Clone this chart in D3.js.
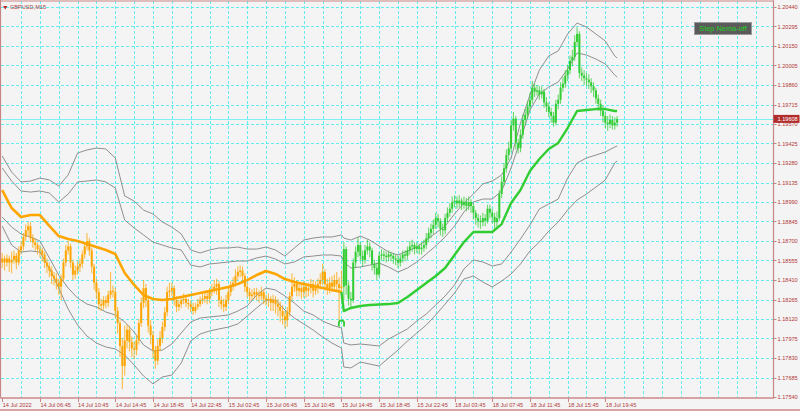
<!DOCTYPE html>
<html><head><meta charset="utf-8">
<script src="https://cdn.jsdelivr.net/npm/d3@7"></script>
<style>html,body{margin:0;padding:0;background:#f4f4f4;overflow:hidden}svg{display:block}</style>
</head><body>
<svg id="c" width="800" height="411"></svg>
<script>
const symbolTitle = "GBPUSD,M15";
const buttonText = "Step Nema-off";
const priceTicks = [1.17540,1.17685,1.17830,1.17975,1.18120,1.18265,1.18410,1.18555,1.18700,1.18845,1.18990,1.19135,1.19280,1.19425,1.19570,1.19715,1.19860,1.20005,1.20150,1.20295,1.20440];
const timeLabels = ["14 Jul 2022","14 Jul 06:45","14 Jul 10:45","14 Jul 14:45","14 Jul 18:45","14 Jul 22:45","15 Jul 02:45","15 Jul 06:45","15 Jul 10:45","15 Jul 14:45","15 Jul 18:45","15 Jul 22:45","18 Jul 03:45","18 Jul 07:45","18 Jul 11:45","18 Jul 15:45","18 Jul 19:45"];
const timeLabelBars = [0,16,32,48,64,80,96,112,128,144,160,176,192,208,224,240,256];

const opens = [1.1854,1.1857,1.1854,1.1857,1.1854,1.1856,1.1859,1.1854,1.1863,1.1866,
1.1873,1.1878,1.1881,1.1872,1.1869,1.1867,1.1864,1.1863,1.1860,1.1854,
1.1851,1.1848,1.1844,1.1842,1.1839,1.1836,1.1842,1.1854,1.1863,1.1866,
1.1854,1.1845,1.1848,1.1851,1.1853,1.1860,1.1866,1.1870,1.1863,1.1851,
1.1839,1.1832,1.1823,1.1822,1.1826,1.1824,1.1830,1.1833,1.1832,1.1818,
1.1809,1.1792,1.1777,1.1796,1.1804,1.1795,1.1790,1.1789,1.1796,1.1809,
1.1824,1.1835,1.1826,1.1807,1.1800,1.1789,1.1781,1.1792,1.1798,1.1806,
1.1817,1.1832,1.1833,1.1835,1.1826,1.1821,1.1823,1.1826,1.1827,1.1824,
1.1823,1.1821,1.1818,1.1821,1.1823,1.1826,1.1827,1.1829,1.1827,1.1832,
1.1833,1.1836,1.1838,1.1826,1.1823,1.1821,1.1826,1.1832,1.1836,1.1839,
1.1844,1.1847,1.1848,1.1844,1.1836,1.1832,1.1829,1.1830,1.1832,1.1830,
1.1829,1.1832,1.1827,1.1826,1.1827,1.1824,1.1826,1.1823,1.1821,1.1818,
1.1814,1.1811,1.1817,1.1829,1.1836,1.1838,1.1833,1.1835,1.1832,1.1836,
1.1833,1.1835,1.1838,1.1833,1.1836,1.1838,1.1841,1.1847,1.1838,1.1835,
1.1839,1.1836,1.1841,1.1838,1.1835,1.1836,1.1864,1.1837,1.1827,1.1826,
1.1854,1.1862,1.1867,1.1859,1.1856,1.1863,1.1866,1.1863,1.1853,1.1850,
1.1845,1.1859,1.1860,1.1859,1.1858,1.1860,1.1859,1.1857,1.1856,1.1854,
1.1857,1.1860,1.1859,1.1863,1.1866,1.1867,1.1864,1.1866,1.1864,1.1865,
1.1867,1.1872,1.1876,1.1879,1.1882,1.1887,1.1885,1.1879,1.1878,1.1887,
1.1891,1.1894,1.1899,1.1900,1.1898,1.1900,1.1897,1.1899,1.1896,1.1899,
1.1896,1.1891,1.1887,1.1885,1.1884,1.1887,1.1885,1.1894,1.1891,1.1888,
1.1884,1.1887,1.1905,1.1914,1.1924,1.1934,1.1939,1.1956,1.1961,1.1943,
1.1939,1.1949,1.1960,1.1964,1.1970,1.1975,1.1984,1.1981,1.1982,1.1979,
1.1981,1.1973,1.1970,1.1966,1.1963,1.1958,1.1972,1.1975,1.1984,1.1987,
1.1993,1.1997,1.2004,1.2007,1.2018,1.2024,1.1995,1.1993,1.1991,1.1990,
1.1988,1.1985,1.1982,1.1976,1.1972,1.1967,1.1963,1.1958,1.1957,1.1960,
1.1956,1.1958];

const highs = [1.1861,1.1859,1.1860,1.1859,1.1862,1.1863,1.1861,1.1866,1.1870,1.1876,
1.1882,1.1884,1.1884,1.1875,1.1872,1.1869,1.1867,1.1865,1.1862,1.1857,
1.1854,1.1851,1.1847,1.1846,1.1842,1.1845,1.1857,1.1867,1.1870,1.1868,
1.1856,1.1852,1.1855,1.1857,1.1863,1.1869,1.1876,1.1872,1.1865,1.1853,
1.1842,1.1835,1.1827,1.1829,1.1829,1.1833,1.1847,1.1837,1.1835,1.1821,
1.1811,1.1798,1.1807,1.1808,1.1807,1.1799,1.1795,1.1800,1.1812,1.1828,
1.1841,1.1838,1.1829,1.1811,1.1803,1.1792,1.1797,1.1803,1.1810,1.1821,
1.1836,1.1839,1.1839,1.1837,1.1829,1.1826,1.1829,1.1831,1.1829,1.1827,
1.1826,1.1824,1.1824,1.1827,1.1829,1.1831,1.1833,1.1832,1.1835,1.1838,
1.1841,1.1842,1.1840,1.1829,1.1827,1.1830,1.1835,1.1840,1.1843,1.1849,
1.1851,1.1852,1.1851,1.1846,1.1839,1.1835,1.1834,1.1835,1.1835,1.1833,
1.1836,1.1834,1.1830,1.1831,1.1829,1.1830,1.1829,1.1827,1.1825,1.1822,
1.1818,1.1821,1.1832,1.1846,1.1843,1.1841,1.1839,1.1838,1.1840,1.1839,
1.1839,1.1842,1.1841,1.1840,1.1842,1.1846,1.1853,1.1849,1.1842,1.1843,
1.1844,1.1845,1.1847,1.1843,1.1848,1.1869,1.1866,1.1840,1.1832,1.1857,
1.1866,1.1873,1.1869,1.1863,1.1867,1.1871,1.1869,1.1865,1.1856,1.1854,
1.1862,1.1864,1.1863,1.1862,1.1863,1.1862,1.1861,1.1860,1.1859,1.1860,
1.1863,1.1863,1.1866,1.1870,1.1871,1.1869,1.1869,1.1868,1.1869,1.1871,
1.1876,1.1880,1.1883,1.1886,1.1891,1.1890,1.1887,1.1883,1.1890,1.1895,
1.1898,1.1903,1.1904,1.1903,1.1904,1.1902,1.1903,1.1902,1.1903,1.1901,
1.1898,1.1893,1.1890,1.1889,1.1891,1.1890,1.1897,1.1897,1.1894,1.1891,
1.1892,1.1908,1.1918,1.1928,1.1938,1.1944,1.1960,1.1966,1.1963,1.1946,
1.1953,1.1964,1.1968,1.1974,1.1980,1.1989,1.1987,1.1986,1.1985,1.1985,
1.1983,1.1977,1.1973,1.1969,1.1966,1.1975,1.1979,1.1988,1.1992,1.1997,
1.2001,1.2008,1.2012,1.2023,1.2029,1.2026,1.1999,1.1997,1.1995,1.1994,
1.1991,1.1988,1.1984,1.1979,1.1975,1.1971,1.1966,1.1963,1.1964,1.1963,
1.1962,1.1963];

const lows = [1.1850,1.1848,1.1851,1.1847,1.1846,1.1853,1.1849,1.1852,1.1860,1.1863,
1.1870,1.1874,1.1869,1.1865,1.1863,1.1860,1.1858,1.1855,1.1850,1.1846,
1.1843,1.1838,1.1837,1.1834,1.1830,1.1826,1.1840,1.1851,1.1860,1.1850,
1.1841,1.1842,1.1845,1.1847,1.1850,1.1857,1.1863,1.1859,1.1846,1.1834,
1.1827,1.1819,1.1818,1.1819,1.1820,1.1821,1.1827,1.1828,1.1813,1.1801,
1.1784,1.1760,1.1770,1.1790,1.1788,1.1784,1.1782,1.1785,1.1793,1.1806,
1.1820,1.1821,1.1802,1.1793,1.1783,1.1775,1.1778,1.1788,1.1794,1.1803,
1.1814,1.1828,1.1829,1.1822,1.1817,1.1818,1.1820,1.1823,1.1821,1.1819,
1.1817,1.1815,1.1816,1.1819,1.1821,1.1823,1.1824,1.1823,1.1824,1.1829,
1.1831,1.1830,1.1821,1.1819,1.1817,1.1818,1.1823,1.1829,1.1833,1.1836,
1.1841,1.1843,1.1840,1.1832,1.1828,1.1825,1.1826,1.1827,1.1826,1.1824,
1.1826,1.1823,1.1822,1.1821,1.1818,1.1818,1.1816,1.1814,1.1810,1.1808,
1.1805,1.1806,1.1814,1.1826,1.1832,1.1829,1.1829,1.1827,1.1828,1.1828,
1.1829,1.1831,1.1828,1.1830,1.1831,1.1834,1.1837,1.1833,1.1830,1.1831,
1.1832,1.1833,1.1832,1.1811,1.1826,1.1826,1.1830,1.1822,1.1821,1.1824,
1.1850,1.1858,1.1855,1.1851,1.1853,1.1860,1.1858,1.1848,1.1845,1.1841,
1.1843,1.1856,1.1855,1.1854,1.1855,1.1855,1.1853,1.1852,1.1850,1.1851,
1.1854,1.1855,1.1856,1.1860,1.1862,1.1860,1.1861,1.1860,1.1860,1.1862,
1.1864,1.1869,1.1872,1.1875,1.1879,1.1880,1.1874,1.1873,1.1875,1.1884,
1.1888,1.1891,1.1895,1.1894,1.1895,1.1893,1.1894,1.1892,1.1893,1.1891,
1.1886,1.1882,1.1880,1.1879,1.1881,1.1881,1.1883,1.1887,1.1883,1.1878,
1.1880,1.1885,1.1902,1.1911,1.1921,1.1930,1.1936,1.1952,1.1938,1.1935,
1.1936,1.1946,1.1956,1.1961,1.1967,1.1972,1.1977,1.1978,1.1975,1.1976,
1.1969,1.1966,1.1962,1.1958,1.1955,1.1956,1.1968,1.1972,1.1981,1.1984,
1.1989,1.1994,1.2000,1.2004,1.2015,1.1991,1.1989,1.1986,1.1985,1.1983,
1.1980,1.1977,1.1972,1.1967,1.1963,1.1958,1.1954,1.1952,1.1954,1.1953,
1.1953,1.1955];

const closes = [1.1857,1.1854,1.1857,1.1854,1.1856,1.1859,1.1854,1.1863,1.1866,1.1873,
1.1878,1.1881,1.1872,1.1869,1.1867,1.1864,1.1863,1.1860,1.1854,1.1851,
1.1848,1.1844,1.1842,1.1839,1.1836,1.1842,1.1854,1.1863,1.1866,1.1854,
1.1845,1.1848,1.1851,1.1853,1.1860,1.1866,1.1870,1.1863,1.1851,1.1839,
1.1832,1.1823,1.1822,1.1826,1.1824,1.1830,1.1833,1.1832,1.1818,1.1809,
1.1792,1.1777,1.1796,1.1804,1.1795,1.1790,1.1789,1.1796,1.1809,1.1824,
1.1835,1.1826,1.1807,1.1800,1.1789,1.1781,1.1792,1.1798,1.1806,1.1817,
1.1832,1.1833,1.1835,1.1826,1.1821,1.1823,1.1826,1.1827,1.1824,1.1823,
1.1821,1.1818,1.1821,1.1823,1.1826,1.1827,1.1829,1.1827,1.1832,1.1833,
1.1836,1.1838,1.1826,1.1823,1.1821,1.1826,1.1832,1.1836,1.1839,1.1844,
1.1847,1.1848,1.1844,1.1836,1.1832,1.1829,1.1830,1.1832,1.1830,1.1829,
1.1832,1.1827,1.1826,1.1827,1.1824,1.1826,1.1823,1.1821,1.1818,1.1814,
1.1811,1.1817,1.1829,1.1836,1.1838,1.1833,1.1835,1.1832,1.1836,1.1833,
1.1835,1.1838,1.1833,1.1836,1.1838,1.1841,1.1847,1.1838,1.1835,1.1839,
1.1836,1.1841,1.1838,1.1835,1.1836,1.1864,1.1837,1.1827,1.1826,1.1854,
1.1862,1.1867,1.1859,1.1856,1.1863,1.1866,1.1863,1.1853,1.1850,1.1845,
1.1859,1.1860,1.1859,1.1858,1.1860,1.1859,1.1857,1.1856,1.1854,1.1857,
1.1860,1.1859,1.1863,1.1866,1.1867,1.1864,1.1866,1.1864,1.1865,1.1867,
1.1872,1.1876,1.1879,1.1882,1.1887,1.1885,1.1879,1.1878,1.1887,1.1891,
1.1894,1.1899,1.1900,1.1898,1.1900,1.1897,1.1899,1.1896,1.1899,1.1896,
1.1891,1.1887,1.1885,1.1884,1.1887,1.1885,1.1894,1.1891,1.1888,1.1884,
1.1887,1.1905,1.1914,1.1924,1.1934,1.1939,1.1956,1.1961,1.1943,1.1939,
1.1949,1.1960,1.1964,1.1970,1.1975,1.1984,1.1981,1.1982,1.1979,1.1981,
1.1973,1.1970,1.1966,1.1963,1.1958,1.1972,1.1975,1.1984,1.1987,1.1993,
1.1997,1.2004,1.2007,1.2018,1.2024,1.1995,1.1993,1.1991,1.1990,1.1988,
1.1985,1.1982,1.1976,1.1972,1.1967,1.1963,1.1958,1.1957,1.1960,1.1956,
1.1958,1.19608];

const trendSwitchBar = 145;   // bars and NEMA turn from orange to green here

const lineBars = [0,4,8,12,16,20,24,28,32,36,40,44,48,52,56,60,64,68,72,76,80,84,88,92,96,100,104,108,112,116,120,124,128,132,136,140,144,
145,148,152,156,160,164,168,172,176,180,184,188,192,196,200,204,208,212,216,220,224,228,232,236,240,244,248,252,256,260,261];

const nema = [1.19079,1.18945,1.18878,1.18893,1.18893,1.18812,1.18737,1.18715,1.18700,1.18678,1.18655,1.18633,1.18603,1.18462,1.18373,1.18298,1.18269,1.18261,1.18269,1.18284,1.18298,1.18313,1.18328,1.18343,1.18358,1.18380,1.18409,1.18447,1.18477,1.18455,1.18417,1.18395,1.18380,1.18365,1.18350,1.18336,1.18321,
1.18179,
1.18202,1.18217,1.18224,1.18228,1.18231,1.18239,1.18284,1.18336,1.18388,1.18440,1.18499,1.18596,1.18692,1.18767,1.18767,1.18767,1.18826,1.18983,1.19079,1.19220,1.19310,1.19384,1.19429,1.19540,1.19667,1.19674,1.19681,1.19681,1.19667,
1.19667];

const upper2 = [1.19332,1.19213,1.19139,1.19146,1.19168,1.19154,1.19109,1.19191,1.19354,1.19377,1.19391,1.19384,1.19317,1.19035,1.18997,1.18930,1.18901,1.18841,1.18804,1.18752,1.18633,1.18611,1.18633,1.18648,1.18648,1.18655,1.18640,1.18640,1.18655,1.18633,1.18588,1.18648,1.18707,1.18722,1.18730,1.18730,1.18745,
1.18722,
1.18707,1.18737,1.18707,1.18663,1.18618,1.18596,1.18626,1.18655,1.18707,1.18759,1.18811,1.18901,1.18982,1.19049,1.19124,1.19146,1.19191,1.19317,1.19577,1.19786,1.19971,1.20076,1.20113,1.20239,1.20321,1.20291,1.20239,1.20187,1.20076,
1.20061];

const upper1 = [1.19243,1.19146,1.19072,1.19064,1.19072,1.19057,1.18990,1.19049,1.19139,1.19146,1.19154,1.19139,1.19094,1.18856,1.18797,1.18745,1.18692,1.18670,1.18648,1.18633,1.18521,1.18507,1.18529,1.18536,1.18544,1.18551,1.18551,1.18574,1.18588,1.18566,1.18529,1.18544,1.18581,1.18588,1.18596,1.18596,1.18588,
1.18544,
1.18499,1.18507,1.18521,1.18536,1.18507,1.18469,1.18499,1.18544,1.18603,1.18663,1.18730,1.18811,1.18916,1.18990,1.19012,1.19012,1.19072,1.19243,1.19451,1.19674,1.19793,1.19845,1.19882,1.19979,1.20098,1.20083,1.20053,1.20016,1.19934,
1.19919];

const lower1 = [1.18878,1.18804,1.18752,1.18730,1.18700,1.18574,1.18447,1.18350,1.18276,1.18231,1.18209,1.18172,1.18150,1.18098,1.18023,1.17927,1.17882,1.17889,1.17934,1.18016,1.18098,1.18127,1.18135,1.18142,1.18150,1.18179,1.18217,1.18298,1.18350,1.18336,1.18291,1.18239,1.18179,1.18150,1.18105,1.18075,1.18053,
1.17941,
1.17927,1.17934,1.17927,1.17919,1.17971,1.18008,1.18046,1.18105,1.18157,1.18224,1.18291,1.18373,1.18492,1.18559,1.18544,1.18514,1.18529,1.18618,1.18715,1.18819,1.18938,1.18975,1.19012,1.19168,1.19280,1.19317,1.19339,1.19362,1.19399,
1.19406];

const lower2 = [1.18811,1.18670,1.18618,1.18626,1.18618,1.18499,1.18350,1.18194,1.18075,1.17993,1.17941,1.17912,1.17897,1.17852,1.17778,1.17696,1.17637,1.17689,1.17703,1.17793,1.17956,1.18008,1.18031,1.18046,1.18060,1.18083,1.18142,1.18202,1.18261,1.18261,1.18187,1.18127,1.18083,1.18038,1.17986,1.17941,1.17904,
1.17763,
1.17756,1.17800,1.17785,1.17770,1.17830,1.17889,1.17956,1.18016,1.18075,1.18150,1.18231,1.18313,1.18417,1.18440,1.18395,1.18358,1.18402,1.18455,1.18529,1.18626,1.18692,1.18774,1.18841,1.18930,1.19005,1.19049,1.19101,1.19154,1.19280,
1.19295];

const lastPrice = 1.19608;
const signalBar = 144, signalPrice = 1.18090;

// ---------- drawing ----------
const ORANGE = "#ffa500", GREEN = "#32cd32", AXIS = "#c98585", TXT = "#b23a3a";
const FONT = "'Liberation Sans', Arial, sans-serif";
const plot = {left: 1, top: 1, right: 773, bottom: 397};

const svg = d3.select("#c");
svg.append("rect").attr("width", 800).attr("height", 411).attr("fill", "#f4f4f4");

const x = d3.scaleLinear().domain([0, 261]).range([2.2, 617.1]);
const y = d3.scaleLinear().domain([priceTicks[0], priceTicks[priceTicks.length - 1]]).range([397, 7]);

svg.append("clipPath").attr("id", "clip").append("rect")
  .attr("x", plot.left).attr("y", plot.top)
  .attr("width", plot.right - plot.left).attr("height", plot.bottom - plot.top);

const g = svg.append("g").attr("clip-path", "url(#clip)");

// grid
const gridBars = d3.range(8, 330, 8);
g.append("g").selectAll("line").data(gridBars).join("line")
  .attr("x1", d => Math.round(x(d)) + 0.5).attr("x2", d => Math.round(x(d)) + 0.5)
  .attr("y1", plot.top).attr("y2", plot.bottom)
  .attr("stroke", "#2ae9f0").attr("stroke-width", 1).attr("stroke-dasharray", "3,2").attr("opacity", 0.7);
g.append("g").selectAll("line").data(priceTicks).join("line")
  .attr("y1", d => Math.round(y(d)) + 0.5).attr("y2", d => Math.round(y(d)) + 0.5)
  .attr("x1", plot.left).attr("x2", plot.right)
  .attr("stroke", "#2ae9f0").attr("stroke-width", 1).attr("stroke-dasharray", "3,2").attr("opacity", 0.7);

// current price line
g.append("line").attr("x1", plot.left).attr("x2", plot.right)
  .attr("y1", Math.round(y(lastPrice)) + 0.5).attr("y2", Math.round(y(lastPrice)) + 0.5)
  .attr("stroke", "#7ff0f4").attr("stroke-width", 1);

// bands
const bandLine = d3.line().x(d => x(d[0])).y(d => y(d[1]));
[upper2, upper1, lower1, lower2].forEach(arr => {
  g.append("path").datum(lineBars.map((b, k) => [b, arr[k]]))
    .attr("d", bandLine).attr("fill", "none").attr("stroke", "#8f8f8f").attr("stroke-width", 1);
});

// candles
const bars = closes.map((c, i) => ({i, o: opens[i], h: highs[i], l: lows[i], c}));
const colorOf = d => d.i < trendSwitchBar ? ORANGE : GREEN;
g.append("g").selectAll("line").data(bars).join("line")
  .attr("x1", d => x(d.i)).attr("x2", d => x(d.i))
  .attr("y1", d => y(Math.max(d.h, d.o, d.c))).attr("y2", d => y(Math.min(d.l, d.o, d.c)))
  .attr("stroke", colorOf).attr("stroke-width", 1.1).attr("opacity", 0.7);
g.append("g").selectAll("rect").data(bars).join("rect")
  .attr("x", d => x(d.i) - 1).attr("width", 2)
  .attr("y", d => y(Math.max(d.o, d.c)))
  .attr("height", d => Math.max(1.2, Math.abs(y(d.o) - y(d.c))))
  .attr("fill", colorOf);

// NEMA
const nemaPts = lineBars.map((b, k) => [b, nema[k]]);
g.append("path").datum(nemaPts.filter(p => p[0] < trendSwitchBar))
  .attr("d", bandLine).attr("fill", "none").attr("stroke", ORANGE).attr("stroke-width", 2.6).attr("stroke-linejoin", "round");
g.append("path").datum(nemaPts.filter(p => p[0] >= trendSwitchBar - 1))
  .attr("d", bandLine).attr("fill", "none").attr("stroke", GREEN).attr("stroke-width", 2.4).attr("stroke-linejoin", "round");

// signal marker
{
  const cx = x(signalBar), cy = y(signalPrice);
  const p = d3.path();
  p.moveTo(cx - 2.6, cy + 3.5); p.lineTo(cx - 2.6, cy);
  p.arc(cx, cy, 2.6, Math.PI, 0);
  p.lineTo(cx + 2.6, cy + 3.5);
  g.append("path").attr("d", p.toString()).attr("fill", "none").attr("stroke", GREEN).attr("stroke-width", 1.8);
}

// frame
svg.append("line").attr("x1", 0.5).attr("x2", 0.5).attr("y1", 0).attr("y2", 398).attr("stroke", AXIS).attr("stroke-width", 1.2);
svg.append("line").attr("x1", 0).attr("x2", 774).attr("y1", 1).attr("y2", 1).attr("stroke", AXIS).attr("stroke-width", 1.2);
svg.append("line").attr("x1", 773.5).attr("x2", 773.5).attr("y1", 0.5).attr("y2", 399).attr("stroke", AXIS).attr("stroke-width", 1.2);
svg.append("line").attr("x1", 0).attr("x2", 774).attr("y1", 398).attr("y2", 398).attr("stroke", "#d7a3a3").attr("stroke-width", 2);
svg.append("line").attr("x1", 0).attr("x2", 800).attr("y1", 410).attr("y2", 410).attr("stroke", "#d7a3a3").attr("stroke-width", 2);

// right axis
const ra = svg.append("g");
ra.selectAll("line").data(priceTicks).join("line")
  .attr("x1", 773).attr("x2", 776.5).attr("y1", d => Math.round(y(d)) + 0.5).attr("y2", d => Math.round(y(d)) + 0.5)
  .attr("stroke", AXIS);
ra.selectAll("text").data(priceTicks).join("text")
  .attr("x", 777.5).attr("y", d => y(d) + 2)
  .attr("font-family", FONT).attr("font-size", 5.6).attr("fill", TXT)
  .text(d => d.toFixed(5));

// last price label
svg.append("rect").attr("x", 773.5).attr("y", y(lastPrice) - 4).attr("width", 26).attr("height", 8).attr("fill", "#b22c2c");
svg.append("text").attr("x", 777.5).attr("y", y(lastPrice) + 2)
  .attr("font-family", FONT).attr("font-size", 5.6).attr("fill", "#ffffff").text(lastPrice.toFixed(5));

// bottom axis
const ba = svg.append("g");
ba.selectAll("line").data(timeLabelBars).join("line")
  .attr("x1", d => Math.round(x(d)) + 0.5).attr("x2", d => Math.round(x(d)) + 0.5)
  .attr("y1", 398).attr("y2", 402).attr("stroke", AXIS);
ba.selectAll("text").data(timeLabelBars).join("text")
  .attr("x", (d) => Math.max(2, x(d) + 0.5)).attr("y", 406.5)
  .attr("font-family", FONT).attr("font-size", 5.6).attr("fill", TXT)
  .text((d, k) => timeLabels[k]);

// title
svg.append("path").attr("d", "M3,6 L7.5,6 L5.25,9.5 Z").attr("fill", "#c62828");
svg.append("text").attr("x", 10).attr("y", 9.3).attr("font-family", FONT).attr("font-size", 5.6)
  .attr("fill", TXT).text(symbolTitle);

// button
svg.append("rect").attr("x", 694.5).attr("y", 22.5).attr("width", 57).attr("height", 12)
  .attr("fill", "#5b5b5b").attr("stroke", "#9a9a9a").attr("stroke-width", 1);
svg.append("text").attr("x", 723).attr("y", 31.3).attr("text-anchor", "middle")
  .attr("font-family", FONT).attr("font-size", 7.4).attr("fill", "#22d022").text(buttonText);
</script>
</body></html>
